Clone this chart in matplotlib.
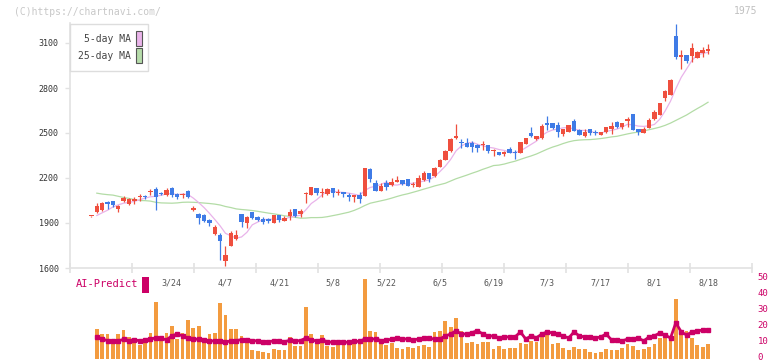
import numpy as np
import matplotlib
matplotlib.use('Agg')
import matplotlib.pyplot as plt
from matplotlib.patches import Rectangle
from matplotlib.transforms import blended_transform_factory, ScaledTranslation

plt.rcParams['font.family'] = 'DejaVu Sans Mono'

# ---- data (daily candles, first one is the reference day) ----
opens = [1945, 1973, 1987, 2038, 2047, 1995, 2049, 2029, 2049, 2071,
         2075, 2107, 2127, 2098, 2087, 2133, 2093, 2085, 2113, 1989,
         1960, 1951, 1922, 1829, 1822, 1649, 1749, 1793, 1960, 1900,
         1976, 1942, 1927, 1925, 1902, 1953, 1915, 1949, 1993, 1958,
         2091, 2087, 2135, 2098, 2091, 2133, 2098, 2109, 2089, 2073,
         2087, 2082, 2260, 2167, 2116, 2167, 2156, 2176, 2187, 2193,
         2153, 2142, 2185, 2233, 2216, 2276, 2322, 2380, 2469, 2433,
         2433, 2431, 2422, 2418, 2422, 2378, 2376, 2362, 2393, 2376,
         2369, 2429, 2500, 2458, 2467, 2567, 2567, 2553, 2493, 2509,
         2580, 2520, 2482, 2524, 2509, 2489, 2507, 2529, 2573, 2538,
         2582, 2627, 2524, 2500, 2533, 2591, 2622, 2733, 2756, 3144,
         3009, 3018, 3011, 3000, 3036, 3049]
highs = [1947, 2033, 2038, 2049, 2047, 2018, 2078, 2067, 2071, 2093,
         2087, 2129, 2140, 2107, 2133, 2140, 2100, 2102, 2120, 2015,
         1967, 1960, 1929, 1884, 1833, 1747, 1849, 1853, 1960, 1949,
         1976, 1949, 1938, 1933, 1953, 1953, 1949, 1993, 1993, 1991,
         2109, 2140, 2135, 2133, 2133, 2133, 2127, 2109, 2098, 2087,
         2109, 2269, 2269, 2187, 2164, 2187, 2198, 2213, 2187, 2193,
         2171, 2220, 2249, 2233, 2276, 2327, 2384, 2464, 2560, 2458,
         2464, 2444, 2427, 2447, 2422, 2391, 2376, 2382, 2407, 2387,
         2440, 2467, 2540, 2480, 2560, 2613, 2567, 2573, 2524, 2553,
         2591, 2524, 2524, 2529, 2520, 2509, 2538, 2573, 2578, 2567,
         2609, 2627, 2524, 2538, 2600, 2653, 2700, 2789, 2860, 3227,
         3053, 3022, 3100, 3049, 3071, 3090]
lows = [1943, 1967, 1978, 1995, 2009, 1973, 2040, 2022, 2029, 2049,
        2060, 2089, 1989, 2084, 2082, 2071, 2062, 2069, 2067, 1982,
        1895, 1907, 1882, 1822, 1655, 1611, 1744, 1787, 1876, 1869,
        1929, 1916, 1893, 1900, 1902, 1907, 1911, 1922, 1938, 1942,
        2036, 2087, 2087, 2075, 2087, 2073, 2087, 2076, 2047, 2040,
        2031, 2082, 2176, 2116, 2116, 2120, 2149, 2171, 2156, 2149,
        2138, 2138, 2180, 2176, 2209, 2271, 2320, 2376, 2458, 2402,
        2404, 2371, 2376, 2387, 2369, 2347, 2356, 2347, 2364, 2324,
        2364, 2429, 2471, 2453, 2460, 2520, 2524, 2476, 2480, 2509,
        2513, 2489, 2476, 2489, 2489, 2485, 2502, 2493, 2533, 2529,
        2538, 2522, 2489, 2500, 2533, 2589, 2618, 2716, 2756, 2991,
        2929, 2964, 2971, 3000, 3004, 3027]
closes = [1945, 2013, 2031, 2025, 2022, 2013, 2067, 2060, 2058, 2075,
          2071, 2111, 2075, 2091, 2120, 2085, 2075, 2093, 2075, 2000,
          1935, 1911, 1902, 1873, 1782, 1687, 1833, 1822, 1909, 1940,
          1935, 1922, 1909, 1913, 1953, 1918, 1933, 1976, 1949, 1982,
          2102, 2140, 2102, 2102, 2124, 2098, 2105, 2093, 2075, 2087,
          2060, 2269, 2193, 2116, 2147, 2140, 2173, 2187, 2160, 2149,
          2156, 2202, 2233, 2193, 2267, 2320, 2380, 2460, 2480, 2431,
          2409, 2409, 2398, 2427, 2382, 2385, 2356, 2369, 2369, 2364,
          2440, 2467, 2480, 2480, 2549, 2556, 2536, 2509, 2524, 2553,
          2513, 2489, 2507, 2498, 2498, 2509, 2538, 2549, 2538, 2567,
          2596, 2522, 2507, 2527, 2587, 2640, 2700, 2782, 2853, 3007,
          3013, 2978, 3067, 3040, 3053, 3053]

# moving averages, volume and AI-Predict start at the second candle
ma5 = [1950, 1968, 1985, 2007, 2021, 2032, 2037, 2044, 2055, 2066,
       2075, 2078, 2085, 2094, 2096, 2089, 2093, 2090, 2066, 2036,
       2003, 1965, 1924, 1881, 1831, 1815, 1799, 1807, 1838, 1888,
       1906, 1923, 1924, 1926, 1923, 1925, 1939, 1946, 1952, 1988,
       2030, 2055, 2086, 2114, 2113, 2106, 2104, 2099, 2092, 2084,
       2117, 2137, 2145, 2157, 2173, 2154, 2153, 2161, 2162, 2165,
       2171, 2180, 2187, 2210, 2243, 2279, 2324, 2381, 2414, 2432,
       2438, 2425, 2415, 2405, 2400, 2390, 2384, 2372, 2369, 2380,
       2402, 2424, 2446, 2483, 2506, 2520, 2526, 2535, 2536, 2527,
       2518, 2517, 2512, 2501, 2500, 2510, 2518, 2526, 2540, 2558,
       2554, 2546, 2544, 2548, 2557, 2592, 2647, 2712, 2796, 2871,
       2927, 2984, 3021, 3030, 3038]
ma25 = [2099, 2093, 2089, 2086, 2078, 2070, 2064, 2056, 2050, 2049,
        2046, 2038, 2034, 2033, 2032, 2034, 2038, 2039, 2038, 2036,
        2033, 2030, 2026, 2020, 2010, 2003, 1994, 1990, 1987, 1983,
        1978, 1972, 1966, 1961, 1955, 1948, 1944, 1938, 1932, 1933,
        1936, 1936, 1937, 1942, 1949, 1956, 1964, 1972, 1984, 1999,
        2017, 2032, 2040, 2048, 2056, 2066, 2077, 2087, 2095, 2105,
        2115, 2126, 2136, 2147, 2156, 2165, 2180, 2195, 2207, 2219,
        2232, 2244, 2258, 2270, 2283, 2286, 2293, 2303, 2312, 2324,
        2336, 2347, 2360, 2376, 2392, 2406, 2417, 2430, 2441, 2449,
        2453, 2455, 2456, 2459, 2463, 2468, 2474, 2478, 2486, 2494,
        2501, 2506, 2513, 2522, 2530, 2539, 2551, 2566, 2584, 2602,
        2620, 2642, 2663, 2683, 2705]
volume = [18.8, 15.6, 15.6, 9.4, 15.6, 18.1, 13.8, 11.3, 8.8, 10.6,
          16.3, 35.6, 11.3, 16.3, 20.6, 12.5, 16.3, 24.4, 19.4, 20.6,
          11.3, 15.6, 16.5, 35.0, 27.5, 18.8, 18.8, 14.4, 11.9, 5.6,
          5.2, 4.4, 3.8, 6.3, 5.6, 5.6, 13.8, 8.1, 8.1, 32.5,
          15.6, 10.0, 15.0, 8.1, 7.5, 10.0, 9.4, 11.9, 10.0, 10.0,
          50.0, 17.5, 16.9, 10.6, 8.8, 10.0, 6.9, 6.3, 7.5, 6.9,
          8.1, 8.8, 7.5, 16.9, 17.5, 23.8, 20.0, 25.6, 17.5, 10.0,
          10.6, 9.4, 10.6, 10.6, 6.3, 8.1, 6.3, 6.9, 6.9, 10.0,
          9.4, 11.3, 10.6, 15.0, 16.3, 9.4, 10.0, 6.9, 5.6, 7.5,
          6.3, 6.3, 4.4, 3.8, 4.4, 6.3, 5.6, 5.6, 6.9, 9.4,
          8.1, 5.6, 6.3, 7.5, 9.4, 13.1, 13.1, 13.1, 37.5, 17.5,
          17.5, 13.1, 8.8, 7.5, 9.4]
ai_predict = [13.5, 12.5, 11.5, 11.3, 11.3, 12.3, 11.5, 12.1, 11.3, 11.7,
              12.3, 13.3, 12.9, 12.0, 14.5, 15.6, 14.5, 12.9, 12.5, 12.3,
              11.9, 11.3, 11.3, 11.3, 10.6, 11.3, 11.5, 12.1, 12.0, 11.5,
              11.3, 10.8, 10.8, 11.3, 11.3, 10.8, 11.7, 11.3, 11.5, 13.1,
              11.9, 11.3, 11.9, 10.8, 10.4, 10.6, 10.6, 10.4, 11.0, 11.0,
              12.5, 12.5, 12.5, 11.5, 11.6, 12.5, 13.1, 12.5, 12.5, 11.9,
              12.5, 12.9, 12.9, 12.5, 12.5, 14.4, 15.6, 17.7, 15.6, 15.6,
              16.5, 17.7, 15.6, 14.4, 14.4, 13.3, 13.8, 13.8, 13.8, 16.9,
              12.5, 14.4, 13.3, 15.6, 16.9, 16.3, 15.6, 14.4, 13.1, 16.9,
              14.4, 13.8, 13.8, 13.1, 13.8, 15.6, 11.9, 11.9, 11.3, 12.5,
              12.5, 13.1, 11.3, 13.8, 14.4, 16.3, 15.0, 13.1, 22.7, 16.9,
              15.0, 16.9, 17.5, 18.1, 18.1]
date_labels = ['3/24', '4/7', '4/21', '5/8', '5/22', '6/5', '6/19', '7/3', '7/17', '8/1', '8/18']
date_index = [15, 25, 35, 45, 55, 65, 75, 85, 95, 105, 115]
price_ticks = [1600, 1900, 2200, 2500, 2800, 3100]
ai_ticks = [0, 10, 20, 30, 40, 50]

# ---- layout helpers (pixel -> figure fraction) ----
W, H = 772, 361
def fx(px):
    return px / W
def fy(py):
    return 1 - py / H

up_col = '#ef4f3e'
down_col = '#3f7be6'
grey = '#e2e2e2'
crimson = '#cc0066'

fig = plt.figure(figsize=(W / 100, H / 100), dpi=100)
ax = fig.add_axes([fx(70), fy(268), fx(752) - fx(70), fy(23.5) - fy(268)])
axv = fig.add_axes([fx(70), fy(359), fx(752) - fx(70), fy(279) - fy(359)])

# ---- candles ----
o = np.array(opens, float)
h = np.array(highs, float)
l = np.array(lows, float)
c = np.array(closes, float)
x = np.arange(len(o))
cols = np.where(c >= o, up_col, down_col)
ax.vlines(x, l, h, colors=cols, lw=0.9, zorder=3)
ax.bar(x, np.maximum(np.abs(c - o), 9), bottom=np.minimum(o, c), width=0.82,
       color=cols, linewidth=0, zorder=4)

xm = np.arange(1, len(o))
ax.plot(xm, ma25, color='#b3dca6', lw=0.9, zorder=2)
ax.plot(xm, ma5, color='#e9b3ea', lw=0.9, zorder=2)

xlim = (-4.0, 123.2)
ax.set_xlim(xlim)
ax.set_ylim(1600, 3230)
ax.set_xticks(np.linspace(xlim[0], xlim[1], 12))
ax.set_xticklabels([])
ax.set_yticks(price_ticks)
ax.set_yticklabels([str(v) for v in price_ticks])
ax.tick_params(axis='x', direction='inout', length=7, width=1.2, color=grey)
ax.tick_params(axis='y', direction='out', length=3.6, width=1, color=grey,
               labelsize=6, labelcolor='#333333', pad=4.4)
for s in ['top', 'right']:
    ax.spines[s].set_visible(False)
for s in ['left', 'bottom']:
    ax.spines[s].set_color(grey)
    ax.spines[s].set_linewidth(1.2)
ax.patch.set_alpha(0)

# ---- volume + AI-Predict ----
axv.bar(xm, volume, width=0.7, color='#f39b3f', linewidth=0)
axv.plot(xm, ai_predict, color=crimson, lw=2.0, marker='s', ms=2.2, zorder=3)
axv.set_xlim(xlim)
axv.set_ylim(0, 50)
axv.set_xticks([])
axv.yaxis.tick_right()
axv.set_yticks(ai_ticks)
axv.set_yticklabels([str(v) for v in ai_ticks])
axv.tick_params(axis='y', length=0, labelsize=6.5, labelcolor=crimson, pad=4)
shift_up = ScaledTranslation(0, 2.5 / 100, fig.dpi_scale_trans)
for lab in axv.get_yticklabels():
    lab.set_transform(lab.get_transform() + shift_up)
for s in axv.spines.values():
    s.set_visible(False)
axv.patch.set_alpha(0)

tr = blended_transform_factory(axv.transData, axv.transAxes)
for lab, pos in zip(date_labels, date_index):
    axv.text(pos, 0.95, lab, transform=tr, ha='center', va='center',
             fontsize=6, color='#555555')

# ---- legend box ----
fig.add_artist(Rectangle((fx(70), fy(71)), fx(148) - fx(70), fy(24) - fy(71),
                         transform=fig.transFigure, facecolor='white',
                         edgecolor='#dddddd', lw=1, zorder=5))
fig.add_artist(Rectangle((fx(136), fy(46)), fx(142) - fx(136), fy(31) - fy(46),
                         transform=fig.transFigure, facecolor='#eab4ea',
                         edgecolor='#555555', lw=0.8, zorder=6))
fig.add_artist(Rectangle((fx(136), fy(63)), fx(142) - fx(136), fy(48) - fy(63),
                         transform=fig.transFigure, facecolor='#b6dcaa',
                         edgecolor='#555555', lw=0.8, zorder=6))
fig.text(fx(131), fy(38.5), '5-day MA', ha='right', va='center', fontsize=7,
         color='#444444', zorder=7)
fig.text(fx(131), fy(56), '25-day MA', ha='right', va='center', fontsize=7,
         color='#444444', zorder=7)

# ---- AI-Predict label ----
fig.text(fx(76), fy(284), 'AI-Predict', ha='left', va='center', fontsize=7.5,
         color=crimson)
fig.add_artist(Rectangle((fx(142), fy(293)), fx(149) - fx(142), fy(277) - fy(293),
                         transform=fig.transFigure, facecolor=crimson,
                         edgecolor='none', zorder=5))

# ---- header texts ----
fig.text(fx(14), fy(12), '(C)https://chartnavi.com/', ha='left', va='center',
         fontsize=7, color='#c8c8c8')
fig.text(fx(757), fy(11), '1975', ha='right', va='center', fontsize=7,
         color='#c0c0c0')

fig.savefig('out.png', dpi=100)
